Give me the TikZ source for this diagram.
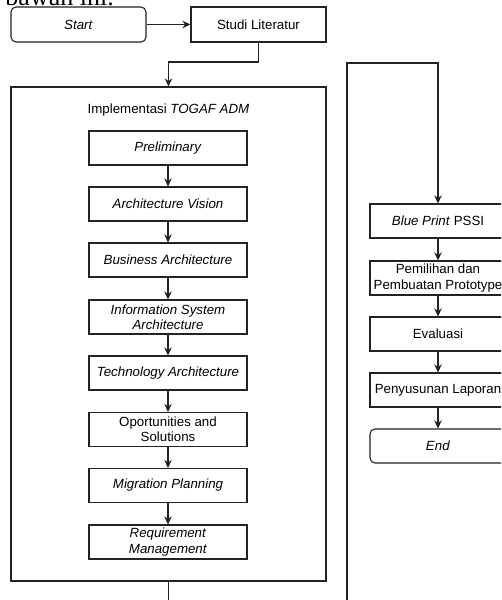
\documentclass[tikz,border=0pt]{standalone}
\usepackage{fontspec}
\setmainfont{Liberation Sans}
\newfontfamily\docserif{Liberation Serif}
\usetikzlibrary{arrows.meta}
\definecolor{linecol}{RGB}{35,35,35}
\begin{document}
\begin{tikzpicture}[x=1pt,y=-1pt,
  every node/.style={font=\fontsize{13.3}{15.3}\selectfont, text=black, inner sep=0pt},
  procbox/.style={draw=linecol, line width=1.1pt, rectangle, align=center},
  leftbox/.style={procbox, minimum width=158pt, minimum height=34pt},
  rightbox/.style={procbox, minimum width=136pt, minimum height=34pt},
  termbox/.style={procbox, rounded corners=5pt, minimum width=135pt, minimum height=35pt},
  arr/.style={draw=linecol, line width=1.1pt, -{Stealth[length=8pt,width=7.5pt]}},
  ln/.style={draw=linecol, line width=1.1pt}
]
\useasboundingbox (0,0) rectangle (501,600);
\clip (0,0) rectangle (501,600);
\fill[white] (0,0) rectangle (501,600);

% document text cut off at the top edge, as in the reference
\node[anchor=base east, font=\docserif\fontsize{26}{28}\selectfont] (doc) at (114,5) {bawah ini.};

% top row
\node[termbox] (start) at (78.5,24.5) {\textit{Start}};
\node[procbox, minimum width=135pt, minimum height=35pt] (studi) at (258.5,24.5) {Studi Literatur};

% big container
\node[draw=linecol, line width=1.1pt, rectangle, minimum width=315pt, minimum height=494pt] (impl) at (168.5,334) {};
\node (title) at (168.5,110) {Implementasi \textit{TOGAF ADM}};

% TOGAF phases
\node[leftbox] (pre) at (168,148) {\textit{Preliminary}};
\node[leftbox] (av)  at (168,204) {\textit{Architecture Vision}};
\node[leftbox] (ba)  at (168,260) {\textit{Business Architecture}};
\node[leftbox] (isa) at (168,317) {\textit{Information System}\\\textit{Architecture}};
\node[leftbox] (ta)  at (168,373) {\textit{Technology Architecture}};
\node[leftbox] (os)  at (168,429.5) {Oportunities and\\Solutions};
\node[leftbox] (mp)  at (168,485.5) {\textit{Migration Planning}};
\node[leftbox] (rm)  at (168,542) {\textit{Requirement}\\\textit{Management}};

% right column
\node[rightbox] (bp)  at (438,221) {\textit{Blue Print} PSSI};
\node[rightbox] (pem) at (438,278) {Pemilihan dan\\Pembuatan Prototype};
\node[rightbox] (eva) at (438,334) {Evaluasi};
\node[rightbox] (pen) at (438,390) {Penyusunan Laporan};
\node[termbox, minimum width=136pt, minimum height=34pt] (end) at (438,446) {\textit{End}};

% connectors
\draw[arr] (start) -- (studi);
\draw[arr] (studi.south) -- (studi.south |- 0,62) -| (impl.north);
\draw[arr] (pre) -- (av);
\draw[arr] (av) -- (ba);
\draw[arr] (ba) -- (isa);
\draw[arr] (isa) -- (ta);
\draw[arr] (ta) -- (os);
\draw[arr] (os) -- (mp);
\draw[arr] (mp) -- (rm);

\coordinate (outl) at (168.5,600);
\draw[ln] (impl.south) -- (outl);

\coordinate (inr) at (347,600);
\draw[arr] (inr) -- (347,63) -| (bp.north);
\draw[arr] (bp) -- (pem);
\draw[arr] (pem) -- (eva);
\draw[arr] (eva) -- (pen);
\draw[arr] (pen) -- (end);
\end{tikzpicture}
\end{document}
